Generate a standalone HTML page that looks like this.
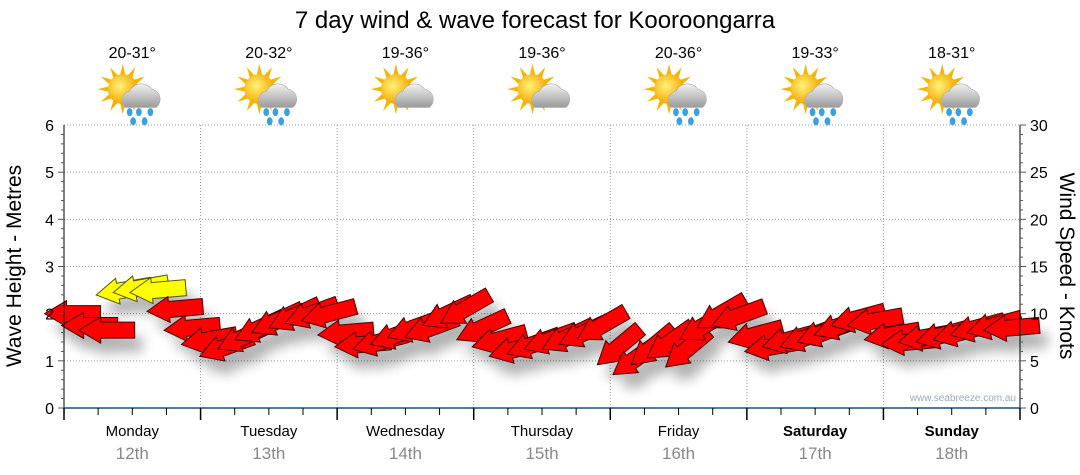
<!DOCTYPE html>
<html><head><meta charset="utf-8"><style>
body{margin:0;background:#fff;}
svg{display:block;font-family:"Liberation Sans",sans-serif;}
</style></head><body>
<svg id="c" width="1080" height="475" viewBox="0 0 1080 475" xmlns="http://www.w3.org/2000/svg">
<defs>
<filter id="sh" x="-50%" y="-50%" width="200%" height="200%"><feGaussianBlur stdDeviation="6"/></filter>
<radialGradient id="sun" cx="0.4" cy="0.4" r="0.6"><stop offset="0" stop-color="#fff27a"/><stop offset="1" stop-color="#f4a800"/></radialGradient>
<linearGradient id="cld" x1="0" y1="0" x2="0" y2="1"><stop offset="0" stop-color="#f2f2f2"/><stop offset="1" stop-color="#9a9a9a"/></linearGradient>
</defs>
<text x="535" y="28" font-size="24" text-anchor="middle" fill="#000">7 day wind &amp; wave forecast for Kooroongarra</text>
<g id="grid"></g>
<g id="shadows" filter="url(#sh)" opacity="0.3"></g>
<g id="arrows"></g>
<g id="axes"></g>
<text x="1016" y="401" font-size="10" text-anchor="end" fill="#9ab">www.seabreeze.com.au</text>
<text transform="translate(21,266) rotate(-90)" font-size="21" text-anchor="middle">Wave Height - Metres</text>
<text transform="translate(1060,266) rotate(90)" font-size="21" text-anchor="middle">Wind Speed - Knots</text>
</svg>
<script>
const days=["Monday","Tuesday","Wednesday","Thursday","Friday","Saturday","Sunday"];
const dates=["12th","13th","14th","15th","16th","17th","18th"];
const temps=["20-31°","20-32°","19-36°","19-36°","20-36°","19-33°","18-31°"];
const rainy=[true,true,false,false,true,true,true];
const leftTicks=[0,1,2,3,4,5,6];
const rightTicks=[0,5,10,15,20,25,30];
// wind speed knots, every 3 hours
const windSpeed=[10,8.75,8.25,12.5,12.75,12.5,10.5,8.5,
7.25,6.5,7.5,8.5,9.25,9.75,10,10,
8,6.75,7,7.75,8.5,8.5,10,10.5,
8.5,7.25,6.25,6.75,7.25,7.5,8,8.75,
6.5,5.25,6.5,7,6.25,8.75,10,9.75,
7.75,6.5,7.25,7.5,8,8.75,9.5,9.25,
7.75,7,7.5,7.75,8,8.5,8.75,8.5];
// tilt of arrow tip below horizontal (degrees)
const windTilt=[0,0,0,10,10,5,5,5,
10,20,25,25,25,25,20,15,
5,5,15,20,20,20,25,30,
25,15,15,20,20,25,25,30,
40,35,40,35,40,30,30,20,
15,10,15,20,20,20,15,10,
10,5,10,15,15,15,15,5];

const NS="http://www.w3.org/2000/svg";
const X0=64,X1=1020,Y0=408,Y1=125,DW=(X1-X0)/7;
const yM=m=>Y0-(m/6)*(Y0-Y1);
const yK=k=>Y0-(k/30)*(Y0-Y1);
const xT=i=>X0+(i+0.5)*DW/8;
function mk(tag,attrs,parent){const e=document.createElementNS(NS,tag);for(const k in attrs)e.setAttribute(k,attrs[k]);parent.appendChild(e);return e;}
const grid=document.getElementById('grid'),axes=document.getElementById('axes'),svg=document.getElementById('c');
leftTicks.forEach(m=>{if(m>0){const l=mk('line',{x1:X0,x2:X1,y1:yM(m),y2:yM(m),stroke:'#999','stroke-dasharray':'1,2'},grid);}});
for(let d=1;d<7;d++){const x=X0+d*DW;const l=mk('line',{x1:x,x2:x,y1:Y1,y2:Y0,stroke:'#999','stroke-dasharray':'1,2'},grid);}
mk('line',{x1:X0,x2:X0,y1:Y1,y2:Y0,stroke:'#000'},axes);
mk('line',{x1:X1,x2:X1,y1:Y1,y2:Y0,stroke:'#000'},axes);
const bl=mk('line',{x1:X0,x2:X1,y1:Y0,y2:Y0,stroke:'#1a4f7a','stroke-width':1.5},axes);

for(let m=0;m<=6;m+=0.2){const y=yM(m);const maj=Math.abs(m-Math.round(m))<0.01;mk('line',{x1:X0-(maj?6:3),x2:X0,y1:y,y2:y,stroke:'#555'},axes);}
leftTicks.forEach(m=>{const t=mk('text',{x:X0-10,y:yM(m)+6,'font-size':16,'text-anchor':'end'},axes);t.textContent=m;});
for(let k=0;k<=30;k+=1){const y=yK(k);const maj=k%5==0;mk('line',{x1:X1,x2:X1+(maj?6:3),y1:y,y2:y,stroke:'#555'},axes);}
rightTicks.forEach(k=>{const t=mk('text',{x:X1+10,y:yK(k)+6,'font-size':16},axes);t.textContent=k;});
for(let i=0;i<=28;i++){const x=X0+i*DW/4;const maj=i%4==0;mk('line',{x1:x,x2:x,y1:Y0,y2:Y0+(maj?12:7),stroke:'#000','stroke-width':maj?1.5:1},axes);}
days.forEach((d,i)=>{const cx=X0+(i+0.5)*DW;
 const t=mk('text',{x:cx,y:436,'font-size':15,'text-anchor':'middle','font-weight':i>=5?'bold':'normal'},axes);t.textContent=d;
 const t2=mk('text',{x:cx,y:459,'font-size':17,'text-anchor':'middle',fill:'#888'},axes);t2.textContent=dates[i];
 const t3=mk('text',{x:cx,y:58,'font-size':16,'text-anchor':'middle'},axes);t3.textContent=temps[i];
 const g=mk('g',{transform:`translate(${cx+2},96) scale(1.15)`},svg);
 for(let a=0;a<12;a++){const r=a*30*Math.PI/180;mk('polygon',{points:`${-10+Math.cos(r)*22},${-6+Math.sin(r)*22} ${-10+Math.cos(r+0.2)*12},${-6+Math.sin(r+0.2)*12} ${-10+Math.cos(r-0.2)*12},${-6+Math.sin(r-0.2)*12}`,fill:'#f5b400'},g);}
 mk('circle',{cx:-10,cy:-6,r:13,fill:'url(#sun)'},g);
 mk('path',{d:'M-8,10 a8,8 0 0 1 4,-14 a11,11 0 0 1 19,-2 a9,9 0 0 1 4,16 z',fill:'url(#cld)',stroke:'#aaa','stroke-width':0.5},g);
 if(rainy[i]){[[-4,14],[4,14],[14,14],[-1,22],[9,22]].forEach(p=>mk('ellipse',{cx:p[0],cy:p[1],rx:2.5,ry:3.5,fill:'#3aa0e0'},g));}
});
const ag=document.getElementById('arrows'),sg=document.getElementById('shadows');
const shape="M0,0 L22,-13 L22,-8 L56,-8 L56,8 L22,8 L22,13 Z";
windSpeed.forEach((k,i)=>{const cx=xT(i),cy=yK(k),tilt=windTilt[i];
 const tr=`translate(${cx},${cy}) rotate(${-tilt}) translate(-28,0)`;
 mk('path',{d:shape,transform:`translate(${cx+8},${cy+14}) rotate(${-tilt}) translate(-28,0)`,fill:'#000'},sg);
 const p=mk('path',{d:shape,transform:tr,fill:k>=12?'#ffff00':'#ff0000',stroke:k>=12?'#555500':'#400','stroke-width':1},ag);
 
 
});
</script>
</body></html>
